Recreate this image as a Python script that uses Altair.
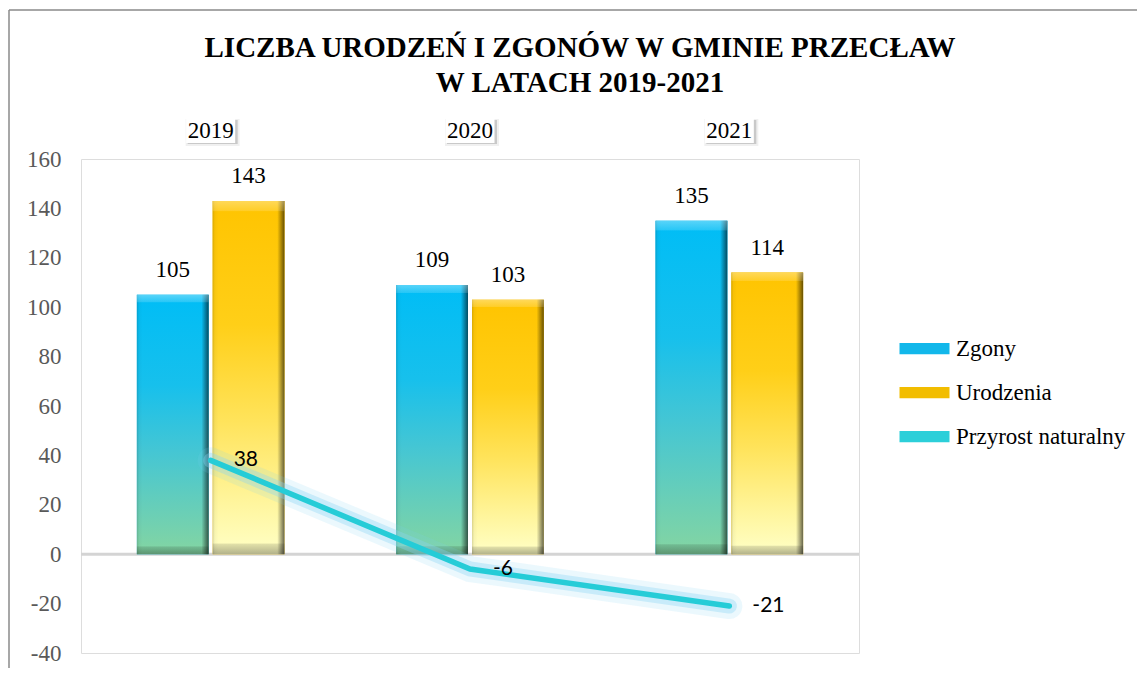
import altair as alt
import pandas as pd

years = ["2019", "2020", "2021"]
zgony = [105, 109, 135]
urodzenia = [143, 103, 114]
przyrost = [38, -6, -21]
series_names = ["Zgony", "Urodzenia", "Przyrost naturalny"]
title_lines = ["LICZBA URODZEŃ I ZGONÓW W GMINIE PRZECŁAW", "W LATACH 2019-2021"]
y_ticks = [-40, -20, 0, 20, 40, 60, 80, 100, 120, 140, 160]

bars_df = pd.DataFrame(
    [{"year": y, "series": "Zgony", "value": v} for y, v in zip(years, zgony)]
    + [{"year": y, "series": "Urodzenia", "value": v} for y, v in zip(years, urodzenia)]
)
line_df = pd.DataFrame({"year": years, "value": przyrost})
year_df = pd.DataFrame({"year": years})
one_df = pd.DataFrame({"k": [0]})

SERIF = "Liberation Serif"

x_enc = alt.X(
    "year:N",
    sort=years,
    scale=alt.Scale(paddingInner=0, paddingOuter=0),
    axis=alt.Axis(
        orient="top", title=None, ticks=False, domain=False, grid=False,
        labelFont=SERIF, labelFontSize=23, labelColor="black",
        labelPadding=29, labelBaseline="middle", labelAngle=0, zindex=2,
    ),
)
xoff_enc = alt.XOffset(
    "series:N",
    scale=alt.Scale(domain=["Zgony", "Urodzenia"], paddingInner=0.053, paddingOuter=0.737),
)
y_enc = alt.Y(
    "value:Q",
    scale=alt.Scale(domain=[-40, 160], nice=False, zero=False),
    axis=alt.Axis(
        title=None, values=y_ticks, ticks=False, domain=False,
        labelFont=SERIF, labelFontSize=23, labelColor="#595959", labelPadding=20,
        labelExpr="'' + datum.value",
        gridColor="#d9d9d9", gridWidth=2,
    ),
)


def grad_v(stops):
    return alt.Gradient(
        gradient="linear", x1=0, x2=0, y1=0, y2=1,
        stops=[alt.GradientStop(offset=o, color=c) for o, c in stops],
    )


def grad_h(stops):
    return alt.Gradient(
        gradient="linear", x1=0, x2=1, y1=0, y2=0,
        stops=[alt.GradientStop(offset=o, color=c) for o, c in stops],
    )


blue_grad = grad_v([(0, "#00bdf6"), (0.35, "#17c0ec"), (0.6, "#44c6d4"), (1, "#84d5a2")])
gold_grad = grad_v([(0, "#ffc400"), (0.35, "#ffcf18"), (0.62, "#ffe35a"), (0.85, "#fff59c"), (1, "#ffffc6")])
edge_grad = grad_h([(0, "rgba(0,0,0,0.15)"), (0.03, "rgba(0,0,0,0.03)"), (0.08, "rgba(0,0,0,0)"),
                    (0.9, "rgba(0,0,0,0)"), (0.95, "rgba(0,0,0,0.3)"), (1, "rgba(0,0,0,0.6)")])
bevel_grad = grad_v([(0, "rgba(255,255,255,0.35)"), (0.028, "rgba(255,255,255,0.15)"),
                     (0.03, "rgba(255,255,255,0)"), (0.968, "rgba(0,0,0,0)"),
                     (0.972, "rgba(0,0,0,0.12)"), (1, "rgba(0,0,0,0.3)")])

base_bars = alt.Chart(bars_df).transform_calculate(lbl="toString(datum.value)")

# plain bars carrying the legend
legend_bars = base_bars.mark_bar().encode(
    x=x_enc, xOffset=xoff_enc, y=y_enc,
    color=alt.Color(
        "series:N",
        scale=alt.Scale(domain=series_names, range=["#12b7ea", "#f2bd00", "#2ccfd9"]),
        legend=alt.Legend(
            title=None, orient="none", legendX=831, legendY=177,
            symbolType="M-2,-0.45L2,-0.45L2,0.45L-2,0.45Z", symbolSize=625,
            symbolStrokeWidth=0, symbolOpacity=1,
            labelFont=SERIF, labelFontSize=23, labelColor="black",
            labelOffset=19, rowPadding=19, padding=0, labelLimit=300,
        ),
    ),
)

zgony_bars = base_bars.mark_bar(fill=blue_grad).encode(
    x=x_enc, xOffset=xoff_enc, y=y_enc
).transform_filter(alt.datum.series == "Zgony")
uro_bars = base_bars.mark_bar(fill=gold_grad).encode(
    x=x_enc, xOffset=xoff_enc, y=y_enc
).transform_filter(alt.datum.series == "Urodzenia")
edge_bars = base_bars.mark_bar(fill=edge_grad).encode(x=x_enc, xOffset=xoff_enc, y=y_enc)
bevel_bars = base_bars.mark_bar(fill=bevel_grad).encode(x=x_enc, xOffset=xoff_enc, y=y_enc)

bar_labels = base_bars.mark_text(
    font=SERIF, fontSize=23, color="black", baseline="alphabetic", dy=-18
).encode(x=x_enc, xOffset=xoff_enc, y=y_enc, text="lbl:N")

zero_line = alt.Chart(one_df).mark_rule(color="#d4d4d4", strokeWidth=3).encode(y=alt.datum(0))

line_base = alt.Chart(line_df).transform_calculate(lbl="toString(datum.value)").encode(x=x_enc, y=y_enc)
glow1 = line_base.mark_line(color="#7ccff3", strokeWidth=26, opacity=0.15, strokeCap="round")
glow2 = line_base.mark_line(color="#86d3f3", strokeWidth=15, opacity=0.35, strokeCap="round")
main_line = line_base.mark_line(color="#25ccd7", strokeWidth=5.5, strokeCap="round")
line_labels = line_base.mark_text(
    font="Lato", fontSize=21, color="black", align="left", baseline="middle", dx=23
).encode(text="lbl:N")

# category boxes around the year labels
box_base = alt.Chart(year_df).encode(x=x_enc)
box_shadow2 = box_base.mark_bar(width=54, color="#000000", opacity=0.06, xOffset=2, yOffset=3).encode(
    y=alt.value(-43), y2=alt.value(-13))
box_shadow1 = box_base.mark_bar(width=50, color="#000000", opacity=0.16, xOffset=2, yOffset=3).encode(
    y=alt.value(-42), y2=alt.value(-15))
box_white = box_base.mark_bar(width=49, color="white").encode(
    y=alt.value(-42), y2=alt.value(-16))

frame_left = alt.Chart(one_df).mark_rule(color="#8a8a8a", strokeWidth=1.5).encode(
    x=alt.value(-72), y=alt.value(-149), y2=alt.value(520))
frame_top = alt.Chart(one_df).mark_rule(color="#8a8a8a", strokeWidth=1.5).encode(
    x=alt.value(-72), x2=alt.value(1060), y=alt.value(-149))

chart = alt.layer(
    frame_left, frame_top,
    zero_line,
    box_shadow2, box_shadow1, box_white,
    legend_bars, zgony_bars, uro_bars, edge_bars, bevel_bars,
    bar_labels,
    glow1, glow2, main_line, line_labels,
).properties(
    width=778,
    height=494,
    title=alt.TitleParams(
        text=title_lines, font=SERIF, fontSize=29, fontWeight="bold", color="black",
        anchor="middle", dx=110, lineHeight=35, offset=-112, baseline="alphabetic",
    ),
    autosize=alt.AutoSizeParams(type="none"),
    padding={"left": 73, "top": 151, "right": 278, "bottom": 15},
).configure_view(
    fill="#f2f2f2", stroke="transparent"
).configure(background="white")

chart.save("out.html", embed_options={"renderer": "svg", "actions": False})
